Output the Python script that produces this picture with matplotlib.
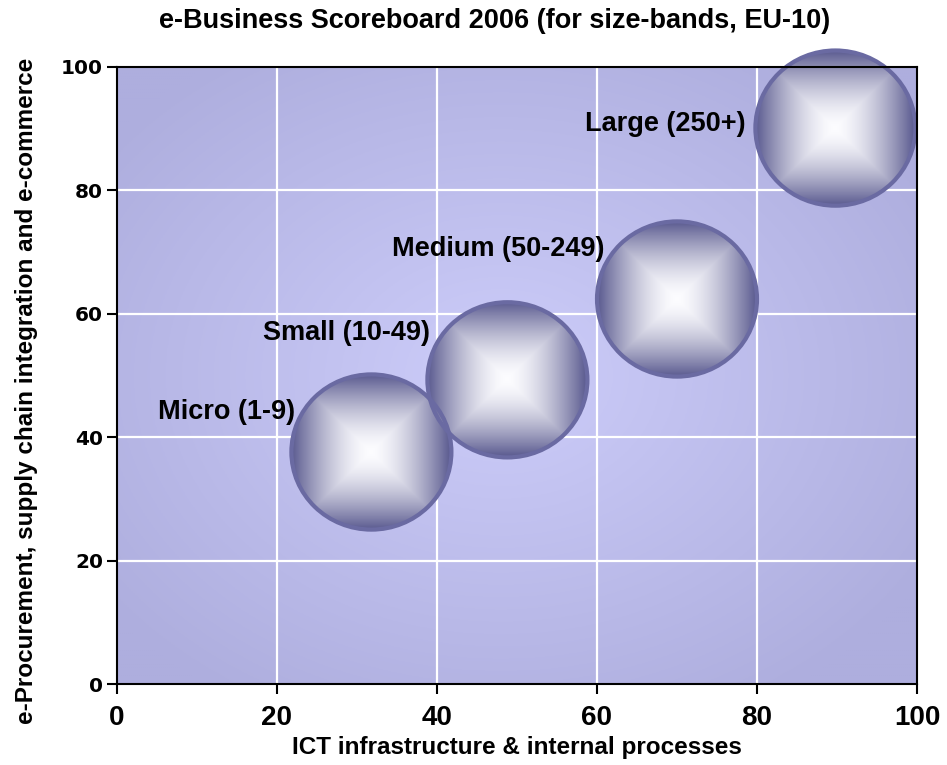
import numpy as np
import matplotlib.pyplot as plt
from matplotlib.patches import Ellipse

# e-Business Scoreboard 2006, EU-10, by enterprise size-band
size_bands = ['Micro (1-9)', 'Small (10-49)', 'Medium (50-249)', 'Large (250+)']
ict_scores = [31.8, 48.8, 70.0, 89.8]
ebiz_scores = [37.6, 49.3, 62.4, 90.1]
bubble_sizes = [1.0, 1.0, 1.0, 1.0]

x_ticks = [0, 20, 40, 60, 80, 100]
y_ticks = [0, 20, 40, 60, 80, 100]

# label placement relative to each bubble centre, in pixels
label_offsets = [(-76, 40), (-77, 47), (-73, 50), (-90, 4)]

W, H = 947, 765
BUBBLE_R = 80  # pixels for size 1.0
EDGE_DARK = np.array([0.35, 0.35, 0.56])
CENTER_LIGHT = np.array([0.99, 0.99, 1.0])

fig = plt.figure(figsize=(W / 100, H / 100), dpi=100)
ax = fig.add_axes([117 / W, 1 - 684 / H, 800 / W, 617 / H])
ax.set_xlim(0, 100)
ax.set_ylim(0, 100)

# soft radial wash behind the plot
gx, gy = np.meshgrid(np.linspace(0, 1, 400), np.linspace(0, 1, 400))
d = np.sqrt(((gx - 0.48) / 0.62) ** 2 + ((gy - 0.5) / 0.62) ** 2)
d = np.clip(d, 0, 1)
c_in = np.array([205, 205, 250]) / 255
c_out = np.array([174, 174, 222]) / 255
bg = c_in[None, None, :] * (1 - d[..., None]) + c_out[None, None, :] * d[..., None]
ax.imshow(bg, extent=[0, 100, 0, 100], origin='lower', aspect='auto', zorder=0)

for v in [20, 40, 60, 80]:
    ax.axvline(v, color='white', lw=1.6, zorder=1)
    ax.axhline(v, color='white', lw=1.6, zorder=1)

# square-shaded bubbles
n = 200
u, v = np.meshgrid(np.linspace(-1, 1, n), np.linspace(-1, 1, n))
t = np.maximum(np.abs(u), np.abs(v)) ** 1.6
shade = CENTER_LIGHT[None, None, :] * (1 - t[..., None]) + EDGE_DARK[None, None, :] * t[..., None]

px_x = 800 / 100
px_y = 617 / 100
for x, y, s in zip(ict_scores, ebiz_scores, bubble_sizes):
    r = BUBBLE_R * np.sqrt(s)
    rx, ry = r / px_x, 0.97 * r / px_y
    circ = Ellipse((x, y), 2 * rx, 2 * ry, facecolor='none',
                   edgecolor='#6a6aa2', lw=3, zorder=3, clip_on=False)
    ax.add_patch(circ)
    im = ax.imshow(shade, extent=[x - rx, x + rx, y - ry, y + ry], origin='lower',
                   aspect='auto', zorder=2)
    # let the top bubble spill over the frame
    im.set_clip_box(fig.bbox)
    im.set_clip_path(circ)

for name, x, y, (dx, dy) in zip(size_bands, ict_scores, ebiz_scores, label_offsets):
    ax.annotate(name, (x, y), xytext=(dx, dy), textcoords='offset pixels',
                ha='right', va='center', fontsize=19.5, fontweight='bold',
                family='Liberation Sans', zorder=4)

ax.set_xlim(0, 100)
ax.set_ylim(0, 100)
ax.set_xticks(x_ticks)
ax.set_yticks(y_ticks)
ax.set_xticklabels([str(t) for t in x_ticks], fontsize=20, fontweight='bold',
                   family='Liberation Sans')
ax.set_yticklabels([str(t) for t in y_ticks], fontsize=14.5, fontweight='bold',
                   family='DejaVu Sans')
ax.tick_params(axis='both', direction='out', length=7, width=1.5)
ax.tick_params(axis='x', pad=8)
ax.tick_params(axis='y', pad=3)
for sp in ax.spines.values():
    sp.set_linewidth(1.5)
    sp.set_zorder(5)

ax.set_xlabel('ICT infrastructure & internal processes', fontsize=17.5,
              fontweight='bold', family='Liberation Sans')
ax.xaxis.set_label_coords(0.5, (684 - 736) / 617)
ax.set_ylabel('e-Procurement, supply chain integration and e-commerce', fontsize=17.5,
              fontweight='bold', family='Liberation Sans')
ax.yaxis.set_label_coords((38 - 117) / 800, (684 - 391) / 617)
fig.text(495 / W, 1 - 21 / H, 'e-Business Scoreboard 2006 (for size-bands, EU-10)',
         ha='center', va='center', fontsize=19.5, fontweight='bold',
         family='Liberation Sans')

fig.savefig('out.png', dpi=100)
